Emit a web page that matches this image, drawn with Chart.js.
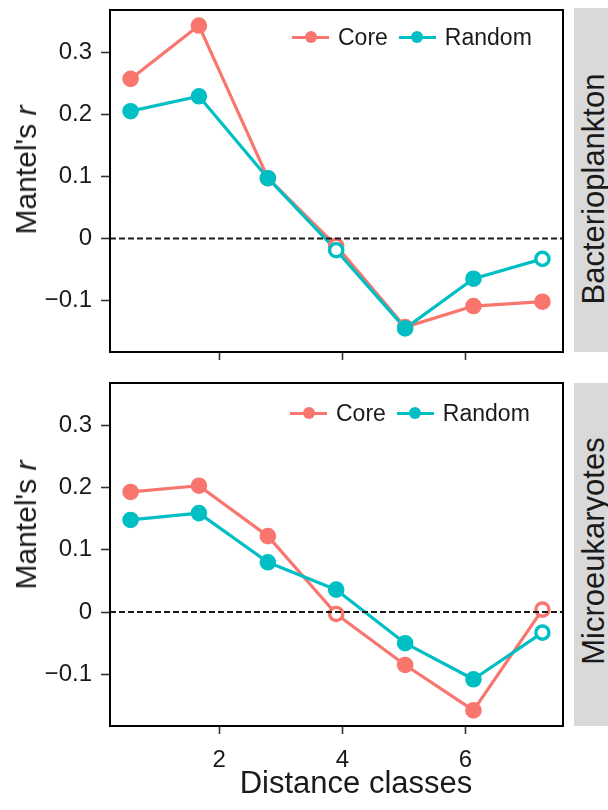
<!DOCTYPE html>
<html>
<head>
<meta charset="utf-8">
<script src="https://cdn.jsdelivr.net/npm/chart.js@4.4.1/dist/chart.umd.min.js"></script>
<style>
  html, body { margin: 0; padding: 0; background: #fff; }
  body { width: 608px; height: 810px; position: relative; overflow: hidden;
         font-family: "Liberation Sans", Arial, sans-serif; color: #1a1a1a; }
  canvas { position: absolute; left: 0; }
  .strip { position: absolute; left: 574px; width: 50px; background: #d9d9d9; }
  .rot { position: absolute; width: 0; height: 0; }
  .rot span { position: absolute; white-space: nowrap; transform: translate(-50%, -50%) rotate(-90deg); line-height: 1; }
  .ytitle span { font-size: 30px; }
  .stext span { font-size: 31px; }
  .xtitle { position: absolute; font-size: 31px; line-height: 31px; white-space: nowrap; transform: translateX(-50%); }
  .legend { position: absolute; display: flex; align-items: center; height: 28px; font-size: 23px; line-height: 28px; }
  .key { position: relative; width: 37px; height: 28px; margin-right: 9px; }
  .kl { position: absolute; left: 0; right: 0; top: 12.5px; height: 3px; }
  .kd { position: absolute; left: 12.5px; top: 8px; width: 12px; height: 12px; border-radius: 50%; }
  .lab { margin-right: 11px; }
</style>
</head>
<body>
<script>
// distance classes (x) shared by both panels
const DIST_X = [0.56, 1.67, 2.79, 3.90, 5.02, 6.13, 7.25];
const X_TICKS = [2, 4, 6];
const Y_TICKS = [-0.1, 0, 0.1, 0.2, 0.3];

const SERIES = ['Core', 'Random'];
const SERIES_COLORS = ['#F8766D', '#00BFC4'];
const PANELS = ['Bacterioplankton', 'Microeukaryotes'];

// Mantel's r, Bacterioplankton
const bactCore   = [0.257, 0.343, 0.097, -0.012, -0.143, -0.109, -0.102];
const bactRandom = [0.205, 0.229, 0.097, -0.019, -0.145, -0.065, -0.033];
// 1 = significant (filled), 0 = open circle
const bactCoreSig   = [1, 1, 1, 0, 1, 1, 1];
const bactRandomSig = [1, 1, 1, 0, 1, 1, 0];

// Mantel's r, Microeukaryotes
const microCore   = [0.193, 0.203, 0.122, -0.003, -0.085, -0.158, 0.004];
const microRandom = [0.148, 0.159, 0.080, 0.036, -0.050, -0.108, -0.033];
const microCoreSig   = [1, 1, 1, 0, 1, 1, 0];
const microRandomSig = [1, 1, 1, 1, 1, 1, 0];

Chart.defaults.font.family = '"Liberation Sans", Arial, sans-serif';
Chart.defaults.color = '#1a1a1a';

// ggplot-like 5% expansion, y shared across facets
function expand(vals) {
  const lo = Math.min(...vals), hi = Math.max(...vals);
  const pad = (hi - lo) * 0.05;
  return [lo - pad, hi + pad];
}
const [X_MIN, X_MAX] = expand(DIST_X);
const [Y_MIN, Y_MAX] = expand([...bactCore, ...bactRandom, ...microCore, ...microRandom]);

const panelPlugin = {
  id: 'panel',
  afterDatasetsDraw(chart) {
    const { ctx, chartArea: a, scales: { y } } = chart;
    const y0 = y.getPixelForValue(0);
    ctx.save();
    ctx.strokeStyle = '#1a1a1a';
    ctx.lineWidth = 2;
    ctx.setLineDash([6, 3]);
    ctx.beginPath();
    ctx.moveTo(a.left, y0);
    ctx.lineTo(a.right, y0);
    ctx.stroke();
    ctx.restore();
  },
  afterDraw(chart) {
    const { ctx, chartArea: a } = chart;
    ctx.save();
    ctx.strokeStyle = '#000';
    ctx.lineWidth = 2;
    ctx.strokeRect(a.left, a.top, a.right - a.left, a.bottom - a.top);
    ctx.restore();
  }
};

function lineSet(vals, color, order) {
  return {
    data: DIST_X.map((x, i) => ({ x, y: vals[i] })),
    showLine: true,
    borderColor: color,
    borderWidth: 3.2,
    borderJoinStyle: 'round',
    pointRadius: 0,
    order
  };
}

function pointSet(vals, sig, color, order) {
  return {
    data: DIST_X.map((x, i) => ({ x, y: vals[i] })),
    showLine: false,
    pointRadius: 6.6,
    pointBorderWidth: 3.4,
    pointBorderColor: color,
    pointBackgroundColor: sig.map(s => s ? color : '#ffffff'),
    order
  };
}

function makePanel(opt) {
  const cv = document.createElement('canvas');
  cv.width = 574;
  cv.height = opt.height;
  cv.style.top = opt.top + 'px';
  document.body.appendChild(cv);

  const tickFont = { size: 24 };
  new Chart(cv.getContext('2d'), {
    type: 'scatter',
    data: {
      datasets: [
        lineSet(opt.core, SERIES_COLORS[0], 4),
        lineSet(opt.random, SERIES_COLORS[1], 3),
        pointSet(opt.core, opt.coreSig, SERIES_COLORS[0], 2),
        pointSet(opt.random, opt.randomSig, SERIES_COLORS[1], 1)
      ]
    },
    options: {
      responsive: false,
      animation: false,
      events: [],
      layout: { padding: { top: opt.padTop, right: 11, left: 0, bottom: 0 } },
      plugins: { legend: { display: false }, tooltip: { enabled: false } },
      scales: {
        x: {
          type: 'linear',
          min: X_MIN,
          max: X_MAX,
          afterBuildTicks: s => { s.ticks = X_TICKS.map(v => ({ value: v })); },
          afterFit: s => {
            s.height = opt.xAxisHeight;
            s.paddingLeft = 0; s.paddingRight = 0;
          },
          ticks: { display: opt.showX, font: tickFont, color: '#1a1a1a', padding: 12, maxRotation: 0 },
          grid: { display: true, drawOnChartArea: false, drawTicks: true, tickLength: 8, tickWidth: 1.6, tickColor: '#333' },
          border: { display: false }
        },
        y: {
          type: 'linear',
          min: Y_MIN,
          max: Y_MAX,
          afterBuildTicks: s => { s.ticks = Y_TICKS.map(v => ({ value: v })); },
          afterFit: s => {
            s.width = 110;
            s.paddingTop = 0; s.paddingBottom = 0;
          },
          ticks: {
            font: tickFont,
            color: '#1a1a1a',
            padding: 9,
            callback: v => v < 0 ? '\u2212' + Math.abs(v) : String(v)
          },
          grid: { display: true, drawOnChartArea: false, drawTicks: true, tickLength: 9, tickWidth: 1.6, tickColor: '#333' },
          border: { display: false }
        }
      }
    },
    plugins: [panelPlugin]
  });

  // facet strip
  const strip = document.createElement('div');
  strip.className = 'strip';
  strip.style.top = opt.stripTop + 'px';
  strip.style.height = opt.stripHeight + 'px';
  document.body.appendChild(strip);

  const st = document.createElement('div');
  st.className = 'rot stext';
  st.style.left = '593px';
  st.style.top = opt.stripTextY + 'px';
  st.innerHTML = '<span>' + opt.name + '</span>';
  document.body.appendChild(st);

  // y title
  const yt = document.createElement('div');
  yt.className = 'rot ytitle';
  yt.style.left = '26px';
  yt.style.top = opt.yTitleY + 'px';
  yt.innerHTML = "<span>Mantel's <i>r</i></span>";
  document.body.appendChild(yt);

  // legend
  const lg = document.createElement('div');
  lg.className = 'legend';
  lg.style.left = opt.legendLeft + 'px';
  lg.style.top = (opt.legendY - 14) + 'px';
  SERIES.forEach((name, i) => {
    const c = SERIES_COLORS[i];
    lg.insertAdjacentHTML('beforeend',
      '<span class="key"><span class="kl" style="background:' + c + '"></span>' +
      '<span class="kd" style="background:' + c + '"></span></span>' +
      '<span class="lab">' + name + '</span>');
  });
  document.body.appendChild(lg);
}

makePanel({
  name: PANELS[0], top: 0, height: 365, padTop: 8, xAxisHeight: 13, showX: false,
  core: bactCore, random: bactRandom, coreSig: bactCoreSig, randomSig: bactRandomSig,
  stripTop: 8, stripHeight: 344, stripTextY: 189, yTitleY: 170, legendLeft: 292, legendY: 37
});

makePanel({
  name: PANELS[1], top: 370, height: 440, padTop: 13, xAxisHeight: 84, showX: true,
  core: microCore, random: microRandom, coreSig: microCoreSig, randomSig: microRandomSig,
  stripTop: 383, stripHeight: 343, stripTextY: 551, yTitleY: 525, legendLeft: 290, legendY: 413
});

const xt = document.createElement('div');
xt.className = 'xtitle';
xt.style.left = '356px';
xt.style.top = '767px';
xt.textContent = 'Distance classes';
document.body.appendChild(xt);
</script>
</body>
</html>
